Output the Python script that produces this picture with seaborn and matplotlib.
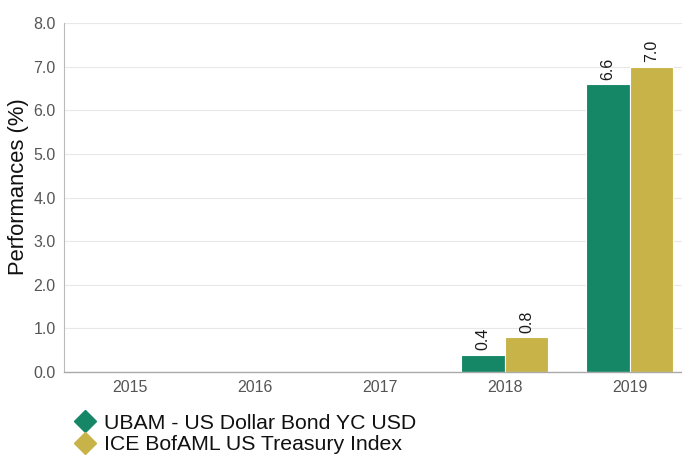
import matplotlib
matplotlib.use("Agg")
import matplotlib.pyplot as plt
from matplotlib.lines import Line2D
import seaborn as sns
import pandas as pd
import numpy as np

years = ["2015", "2016", "2017", "2018", "2019"]
series_names = ["UBAM - US Dollar Bond YC USD", "ICE BofAML US Treasury Index"]
fund_values = [np.nan, np.nan, np.nan, 0.4, 6.6]
index_values = [np.nan, np.nan, np.nan, 0.8, 7.0]
colors = ["#158766", "#c8b349"]
y_ticks = [0, 1, 2, 3, 4, 5, 6, 7, 8]

rows = []
for name, vals in zip(series_names, [fund_values, index_values]):
    for y, v in zip(years, vals):
        if not np.isnan(v):
            rows.append({"Year": y, "Series": name, "Value": v})
df = pd.DataFrame(rows)

sns.set_theme(style="white")
plt.rcParams["font.family"] = ["Liberation Sans", "DejaVu Sans"]

fig = plt.figure(figsize=(6.82, 4.57), dpi=100)
ax = fig.add_axes([64 / 682, 85 / 457, 1 - 64 / 682, (372 - 23) / 457])

sns.barplot(data=df, x="Year", y="Value", hue="Series", order=years,
            hue_order=series_names, palette=colors, width=0.7, saturation=1,
            edgecolor="white", linewidth=0.8, ax=ax, legend=False)

for cont in ax.containers:
    ax.bar_label(cont, fmt="%.1f", rotation=90, padding=3, fontsize=11.5, color="#1a1a1a")

ax.set_ylim(0, 8)
ax.set_xlim(-0.53, 4.42)
ax.set_yticks(y_ticks)
ax.set_yticklabels([f"{t:.1f}" for t in y_ticks])
ax.grid(axis="y", color="#e8e8e8", linewidth=0.8)
ax.set_axisbelow(True)
for s in ["top", "right"]:
    ax.spines[s].set_visible(False)
ax.spines["left"].set_color("#bbbbbb")
ax.spines["bottom"].set_color("#aaaaaa")
ax.spines["left"].set_linewidth(0.8)
ax.spines["bottom"].set_linewidth(1.0)
ax.tick_params(axis="both", length=0, labelsize=11.5, labelcolor="#555555", pad=6)
ax.set_xlabel("")
ax.set_ylabel("Performances (%)", fontsize=15.8, color="#111111")
ax.yaxis.set_label_coords(-0.057, 0.53)

handles = [Line2D([0], [0], marker="D", linestyle="none", markersize=11,
                  markerfacecolor=c, markeredgecolor=c) for c in colors]
fig.legend(handles, series_names, loc="upper left", bbox_to_anchor=(58 / 682, 1 - 403 / 457),
           frameon=False, fontsize=15.3, handletextpad=0.15, labelspacing=0.12,
           borderpad=0, handlelength=1.5, labelcolor="#111111")

fig.savefig("out.png", dpi=100)
